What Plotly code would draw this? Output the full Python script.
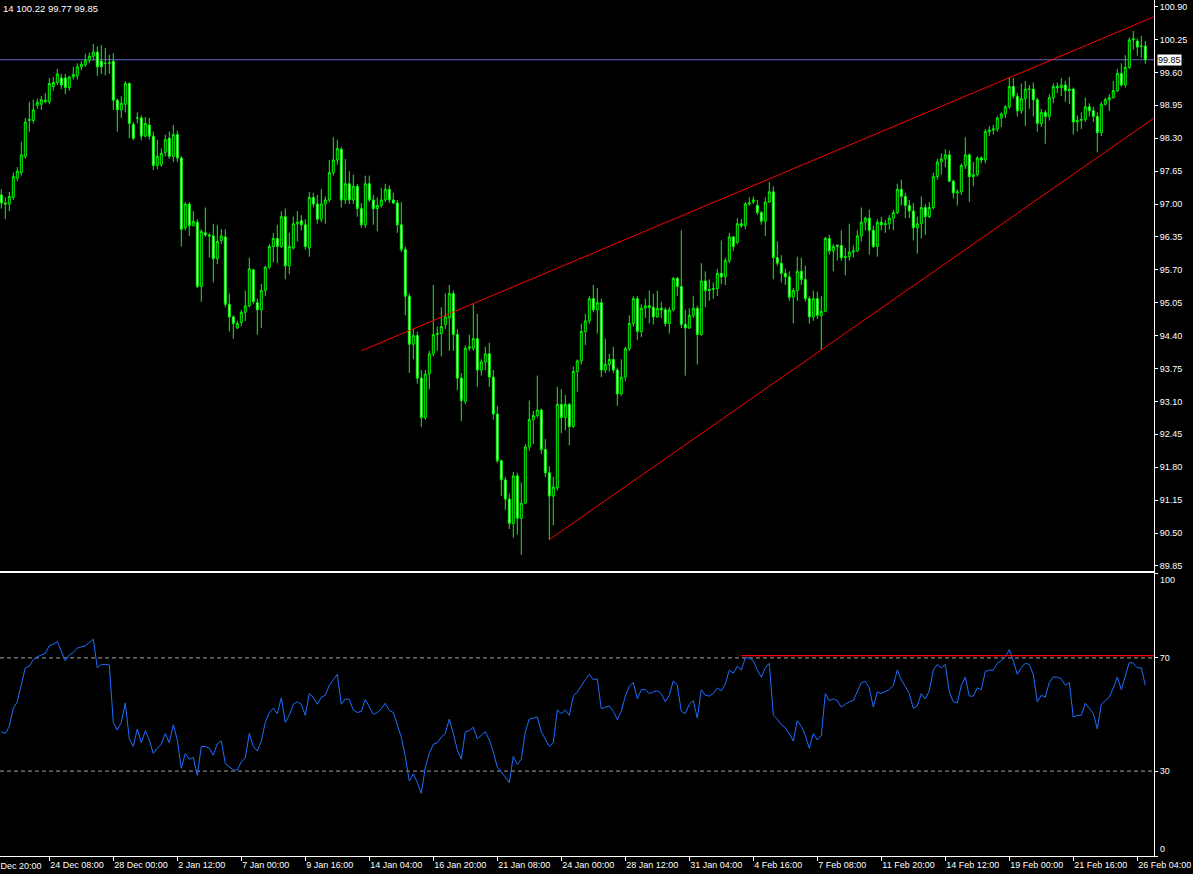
import pandas as pd
import plotly.graph_objects as go

# ---------------- data ----------------
open_ = [
    97.18, 97.02, 97.00, 97.13, 97.51, 97.62, 97.94, 98.65, 98.65, 98.95,
    98.97, 99.02, 99.02, 99.32, 99.40, 99.49, 99.49, 99.30, 99.51, 99.53,
    99.71, 99.75, 99.84, 99.92, 100.00, 99.82, 99.78, 99.78, 99.82, 99.05,
    98.86, 98.97, 99.38, 98.57, 98.70, 98.70, 98.34, 98.56, 98.34, 97.76,
    97.78, 98.02, 98.30, 97.94, 98.37, 97.91, 96.53, 97.00, 96.57, 96.64,
    95.37, 96.43, 96.39, 96.37, 95.92, 96.28, 96.35, 95.02, 94.77, 94.55,
    94.66, 94.86, 94.99, 95.70, 95.05, 94.91, 95.29, 95.75, 96.16, 96.32,
    96.16, 96.75,
    95.78, 96.13, 96.61, 96.67, 96.59, 96.13, 97.13, 97.00, 96.70, 97.00,
    97.08, 97.62, 97.87, 98.08, 97.08, 97.40, 97.08, 97.35, 96.91, 96.59,
    97.40, 97.08, 96.91, 96.97, 97.08, 97.29, 97.08, 97.02, 96.59, 96.10,
    95.18, 94.23, 94.40, 93.56, 92.78, 93.64, 94.04, 94.42, 94.44, 94.62,
    94.75, 95.23, 94.42, 93.56, 93.10, 94.15, 94.15, 94.34, 93.72, 93.88,
    94.04, 93.58, 92.85, 91.93, 91.55, 91.17, 90.69, 91.63, 90.79, 91.09,
    92.20, 92.74, 92.82, 92.93, 92.15, 91.69, 91.23, 91.39, 93.04, 92.78,
    93.04, 92.60,
    93.69, 93.90, 94.48, 94.69, 95.13, 94.91, 95.05, 93.72, 93.83, 93.93,
    93.72, 93.25, 93.58, 94.14, 94.64, 95.13, 94.48, 94.94, 94.99, 94.96,
    94.77, 94.94, 94.91, 94.64, 94.91, 95.53, 95.37, 94.62, 94.55, 94.80,
    94.94, 94.42, 95.48, 95.29, 95.31, 95.33, 95.63, 95.56, 95.88, 96.35,
    96.24, 96.61, 96.57, 97.00, 97.04, 96.97, 96.83, 96.66, 97.04, 97.24,
    95.94, 95.83, 95.63, 95.56, 95.16, 95.29, 95.67, 95.51, 95.13, 94.77,
    95.13, 94.80, 94.88, 96.32, 96.07, 96.16, 96.18, 95.94, 95.96, 96.05,
    96.07, 96.37,
    96.64, 96.72, 96.48, 96.16, 96.64, 96.59, 96.61, 96.72, 96.83, 97.29,
    97.15, 96.97, 96.86, 96.53, 96.61, 96.93, 96.75, 96.93, 97.54, 97.83,
    97.89, 97.97, 97.45, 97.22, 97.24, 97.76, 97.97, 97.54, 97.58, 97.91,
    97.87, 98.43, 98.46, 98.48, 98.70, 98.78, 98.92, 99.32, 99.13, 98.84,
    99.08, 99.27, 99.27, 99.06, 98.59, 98.81, 98.73, 99.10, 99.32, 99.30,
    99.35, 99.24, 99.27, 98.62, 98.65, 98.67, 98.92, 98.84, 98.73, 98.41,
    98.97, 99.06, 99.10, 99.24, 99.58, 99.35, 99.70, 100.24, 100.22, 100.12,
    100.12,
]

high = [
    97.29, 97.13, 97.24, 97.62, 97.73, 98.23, 98.70, 99.02, 99.06, 99.08,
    99.13, 99.19, 99.49, 99.51, 99.67, 99.57, 99.57, 99.53, 99.71, 99.78,
    99.82, 99.97, 99.99, 100.16, 100.11, 100.14, 100.08, 99.95, 99.98, 99.08,
    99.13, 99.43, 99.40, 98.62, 98.81, 98.75, 98.72, 98.70, 98.43, 98.27,
    98.10, 98.37, 98.43, 98.56, 98.45, 97.94, 97.04, 97.04, 96.86, 96.70,
    96.50, 96.93, 96.43, 96.61, 96.59, 96.50, 96.50, 95.23, 94.80, 94.69,
    94.91, 95.29, 95.94, 95.72, 95.13, 95.42, 95.78, 96.21, 96.43, 96.59,
    96.86, 96.91,
    96.43, 96.75, 96.86, 96.78, 96.70, 97.24, 97.22, 97.18, 97.29, 97.15,
    97.87, 98.32, 98.27, 98.13, 97.89, 97.65, 97.58, 97.40, 97.02, 97.56,
    97.56, 97.18, 97.13, 97.32, 97.40, 97.37, 97.22, 97.08, 97.04, 96.16,
    95.23, 94.53, 94.48, 93.72, 93.72, 94.10, 95.40, 94.58, 94.96, 95.23,
    95.40, 95.29, 94.53, 93.66, 94.21, 94.42, 95.02, 94.83, 93.93, 94.18,
    94.26, 93.72, 93.01, 91.95, 91.61, 91.28, 91.71, 91.69, 91.50, 92.26,
    93.12, 92.91, 93.61, 92.96, 92.36, 91.82, 91.61, 93.39, 93.34, 93.23,
    93.07, 93.79,
    93.93, 94.64, 94.83, 95.18, 95.40, 95.34, 95.13, 94.34, 94.04, 94.18,
    93.77, 93.93, 94.18, 94.80, 95.18, 95.18, 95.02, 95.13, 95.29, 95.23,
    95.29, 95.07, 94.96, 94.96, 95.56, 95.56, 96.48, 94.91, 94.94, 95.18,
    94.99, 95.83, 95.67, 95.51, 95.45, 95.72, 96.28, 95.94, 96.43, 96.37,
    96.72, 96.70, 97.04, 97.13, 97.15, 97.08, 96.86, 97.13, 97.43, 97.35,
    96.26, 95.99, 95.72, 95.67, 95.34, 95.96, 95.94, 95.78, 95.18, 95.29,
    95.27, 95.18, 96.35, 96.39, 96.21, 96.21, 96.48, 96.13, 96.61, 96.18,
    96.48, 96.93,
    96.75, 96.89, 96.57, 96.70, 96.75, 96.68, 96.78, 96.89, 97.40, 97.48,
    97.22, 97.08, 97.02, 96.75, 97.15, 97.00, 97.04, 97.62, 97.89, 98.00,
    98.08, 98.05, 97.48, 97.29, 97.80, 98.32, 98.00, 97.83, 97.94, 97.94,
    98.48, 98.54, 98.56, 98.73, 98.81, 98.95, 99.51, 99.49, 99.19, 99.38,
    99.43, 99.35, 99.40, 99.10, 98.88, 98.86, 99.17, 99.38, 99.40, 99.49,
    99.43, 99.51, 99.30, 98.75, 98.81, 99.10, 98.99, 98.92, 98.81, 99.02,
    99.10, 99.17, 99.43, 99.67, 99.78, 99.94, 100.29, 100.42, 100.27, 100.32,
    100.22,
]

low = [
    96.91, 96.70, 96.86, 97.08, 97.45, 97.56, 97.89, 98.43, 98.59, 98.88,
    98.86, 98.99, 98.97, 99.24, 99.35, 99.27, 99.17, 99.24, 99.46, 99.46,
    99.64, 99.71, 99.78, 99.84, 99.53, 99.57, 99.54, 99.57, 98.86, 98.43,
    98.70, 98.81, 98.30, 98.26, 98.59, 98.26, 98.32, 98.27, 97.67, 97.69,
    97.73, 97.94, 97.89, 97.83, 97.83, 96.16, 96.48, 96.37, 96.57, 95.34,
    95.07, 96.35, 95.94, 95.45, 95.81, 96.21, 94.96, 94.48, 94.34, 94.53,
    94.58, 94.69, 94.96, 95.02, 94.42, 94.55, 95.18, 95.72, 95.85, 95.83,
    96.13, 95.51,
    95.61, 96.10, 96.26, 96.48, 96.10, 95.96, 96.93, 96.61, 96.64, 96.61,
    97.04, 97.56, 97.78, 96.93, 97.00, 97.00, 97.00, 96.75, 96.53, 96.53,
    97.04, 96.59, 96.46, 96.93, 97.04, 97.02, 97.00, 96.43, 96.05, 94.80,
    93.66, 93.93, 93.45, 92.60, 92.74, 93.34, 93.99, 94.10, 93.99, 94.53,
    94.10, 94.10, 93.32, 92.71, 93.04, 94.10, 94.10, 93.39, 93.61, 93.72,
    93.39, 92.74, 91.88, 91.23, 90.96, 90.58, 90.41, 90.47, 90.07, 91.07,
    92.13, 92.26, 92.78, 92.06, 91.61, 90.36, 90.65, 91.34, 92.47, 92.53,
    92.23, 92.58,
    93.29, 93.83, 94.21, 94.64, 94.86, 94.44, 93.58, 93.66, 93.69, 93.66,
    93.01, 93.21, 93.50, 94.10, 94.58, 94.31, 94.37, 94.75, 94.64, 94.62,
    94.75, 94.75, 94.58, 94.44, 94.88, 95.18, 94.55, 93.61, 94.53, 94.75,
    93.83, 94.40, 94.96, 95.09, 95.13, 95.18, 95.42, 95.40, 95.83, 96.07,
    96.21, 96.53, 96.50, 96.97, 97.00, 96.78, 96.59, 96.37, 97.02, 95.51,
    95.78, 95.45, 95.40, 95.09, 94.64, 95.09, 95.40, 95.07, 94.64, 94.69,
    94.73, 94.12, 94.86, 96.00, 95.67, 95.88, 95.88, 95.59, 95.88, 95.94,
    96.05, 96.26,
    96.48, 96.00, 96.13, 95.96, 96.48, 96.43, 96.50, 96.48, 96.80, 96.97,
    96.72, 96.72, 96.28, 96.02, 96.32, 96.39, 96.72, 96.89, 97.48, 97.58,
    97.73, 97.43, 97.11, 96.97, 97.18, 97.69, 97.04, 97.35, 97.54, 97.80,
    97.80, 98.34, 98.37, 98.43, 98.52, 98.70, 98.88, 99.08, 98.73, 98.78,
    98.54, 98.88, 98.73, 98.43, 98.52, 98.19, 98.65, 98.99, 99.19, 99.13,
    99.02, 98.97, 98.37, 98.43, 98.48, 98.62, 98.73, 98.62, 98.02, 98.34,
    98.95, 98.84, 99.08, 99.21, 99.32, 99.30, 99.67, 100.05, 99.93, 99.89,
    99.77,
]

close = [
    97.02, 97.00, 97.15, 97.54, 97.65, 97.97, 98.62, 98.67, 98.86, 99.01,
    99.06, 99.05, 99.38, 99.40, 99.57, 99.35, 99.30, 99.51, 99.56, 99.71,
    99.76, 99.84, 99.92, 100.00, 99.71, 99.71, 99.78, 99.79, 99.05, 98.86,
    98.99, 99.38, 98.59, 98.30, 98.70, 98.34, 98.59, 98.34, 97.76, 97.94,
    98.00, 98.27, 97.94, 98.37, 97.91, 96.50, 97.00, 96.57, 96.66, 95.37,
    96.46, 96.39, 96.37, 95.92, 96.26, 96.37, 95.02, 94.77, 94.64, 94.64,
    94.86, 94.99, 95.72, 95.07, 94.91, 95.29, 95.75, 96.16, 96.32, 96.16,
    96.75, 95.78,
    96.16, 96.61, 96.64, 96.59, 96.16, 97.13, 97.00, 96.70, 97.00, 97.08,
    97.62, 97.87, 98.10, 97.08, 97.40, 97.08, 97.35, 96.91, 96.59, 97.40,
    97.08, 96.91, 96.97, 97.08, 97.29, 97.08, 97.02, 96.59, 96.10, 95.18,
    94.23, 94.40, 93.56, 92.78, 93.64, 94.04, 94.42, 94.44, 94.58, 94.77,
    95.23, 94.42, 93.56, 93.12, 94.15, 94.18, 94.34, 93.72, 93.88, 94.04,
    93.58, 92.85, 91.93, 91.55, 91.17, 90.69, 91.63, 90.79, 91.09, 92.20,
    92.74, 92.82, 92.93, 92.15, 91.69, 91.23, 91.41, 93.04, 92.78, 93.04,
    92.60, 93.69,
    93.90, 94.48, 94.69, 95.13, 94.91, 95.05, 93.72, 93.83, 93.93, 93.72,
    93.25, 93.58, 94.14, 94.64, 95.13, 94.48, 94.94, 94.99, 94.96, 94.77,
    94.94, 94.91, 94.64, 94.91, 95.53, 95.37, 94.62, 94.55, 94.80, 94.94,
    94.42, 95.48, 95.29, 95.31, 95.33, 95.63, 95.56, 95.88, 96.35, 96.16,
    96.61, 96.57, 97.00, 97.02, 97.08, 96.83, 96.66, 97.04, 97.24, 95.94,
    95.83, 95.63, 95.56, 95.16, 95.29, 95.67, 95.51, 95.13, 94.77, 95.13,
    94.80, 94.88, 96.32, 96.07, 96.16, 96.18, 95.94, 95.96, 96.05, 96.07,
    96.37, 96.64,
    96.72, 96.48, 96.16, 96.64, 96.59, 96.61, 96.72, 96.83, 97.29, 97.15,
    96.97, 96.86, 96.53, 96.61, 96.93, 96.75, 96.93, 97.54, 97.83, 97.89,
    97.97, 97.45, 97.22, 97.24, 97.76, 97.97, 97.54, 97.58, 97.91, 97.87,
    98.43, 98.46, 98.48, 98.70, 98.78, 98.92, 99.32, 99.13, 98.84, 99.08,
    99.27, 99.27, 99.06, 98.59, 98.81, 98.73, 99.10, 99.32, 99.30, 99.35,
    99.24, 99.27, 98.62, 98.65, 98.67, 98.92, 98.84, 98.73, 98.41, 98.97,
    99.06, 99.10, 99.24, 99.58, 99.35, 99.70, 100.24, 100.26, 100.10, 100.12,
    99.85,
]

rsi = [
    43.9, 43.3, 45.8, 52.2, 54.5, 60.3, 66.5, 67.1, 69.4, 70.4,
    71.0, 71.6, 74.3, 74.8, 75.8, 72.3, 69.0, 71.0, 71.9, 73.5,
    73.9, 74.3, 75.4, 76.6, 66.5, 67.7, 67.7, 67.5, 47.2, 44.5,
    47.2, 54.1, 41.4, 38.7, 44.9, 40.0, 44.3, 41.0, 36.2, 38.1,
    39.5, 43.3, 40.0, 46.4, 41.0, 31.0, 36.2, 34.2, 34.8, 28.5,
    38.7, 38.7, 38.1, 35.6, 39.7, 40.6, 32.7, 31.4, 30.4, 30.4,
    33.3, 34.6, 43.3, 38.7, 37.1, 40.6, 47.2, 50.7, 52.2, 50.3,
    55.9, 47.2,
    49.7, 53.6, 54.5, 53.6, 49.7, 57.4, 56.1, 53.6, 56.1, 56.8,
    60.3, 62.3, 64.2, 53.6, 55.5, 55.3, 51.6, 50.7, 51.1, 55.3,
    52.6, 50.1, 50.7, 52.0, 54.0, 51.4, 50.7, 46.4, 42.0, 35.2,
    26.5, 29.0, 25.9, 22.1, 31.4, 36.2, 39.5, 40.0, 42.0, 43.3,
    48.4, 43.3, 37.5, 34.2, 43.9, 44.3, 45.5, 41.4, 42.6, 43.9,
    41.0, 36.7, 31.4, 29.8, 27.9, 25.9, 35.2, 32.3, 34.2, 43.9,
    48.4, 48.7, 49.1, 43.9, 41.0, 38.7, 40.0, 51.6, 50.3, 51.6,
    49.7, 56.5,
    58.0, 60.3, 62.3, 64.2, 62.3, 62.6, 52.0, 52.6, 53.0, 51.1,
    48.2, 51.1, 56.5, 60.0, 61.3, 55.5, 58.8, 58.8, 57.4, 58.0,
    58.4, 57.4, 54.5, 56.8, 61.9, 60.3, 51.1, 50.3, 53.6, 54.9,
    48.7, 58.8, 56.8, 56.5, 57.4, 59.4, 58.4, 60.7, 65.7, 64.6,
    67.1, 65.7, 70.0, 70.0, 69.0, 65.7, 63.2, 66.5, 68.1, 49.7,
    48.4, 46.4, 45.3, 43.3, 40.6, 47.8, 45.8, 42.6, 38.1, 43.3,
    41.0, 42.6, 57.4, 54.9, 55.5, 54.9, 52.6, 53.6, 54.5, 54.9,
    58.4, 61.3,
    61.7, 59.4, 52.6, 58.0, 57.4, 58.0, 58.8, 60.3, 65.7, 62.3,
    60.0, 57.4, 52.2, 53.0, 57.4, 55.5, 58.4, 65.7, 67.7, 66.5,
    67.7, 58.0, 54.5, 54.1, 60.3, 63.2, 56.5, 56.5, 59.4, 58.8,
    65.2, 65.7, 65.7, 68.1, 69.0, 70.4, 72.9, 69.0, 64.2, 66.5,
    68.1, 67.7, 64.2, 54.5, 56.8, 56.1, 61.3, 63.2, 63.2, 62.6,
    60.3, 61.3, 49.1, 49.7, 49.7, 54.0, 52.2, 50.3, 44.9, 53.6,
    54.9, 56.1, 59.4, 63.2, 58.8, 63.2, 68.4, 68.1, 66.5, 66.5,
    60.3,
]

price_ticks = [100.90, 100.25, 99.60, 98.95, 98.30, 97.65, 97.00, 96.35, 95.70,
               95.05, 94.40, 93.75, 93.10, 92.45, 91.80, 91.15, 90.50, 89.85]
rsi_ticks = [100, 70, 30, 0]
time_tick_labels = ["19 Dec 20:00", "24 Dec 08:00", "28 Dec 00:00", "2 Jan 12:00", "7 Jan 00:00",
                    "9 Jan 16:00", "14 Jan 04:00", "16 Jan 20:00", "21 Jan 08:00",
                    "24 Jan 00:00", "28 Jan 12:00", "31 Jan 04:00", "4 Feb 16:00",
                    "7 Feb 08:00", "11 Feb 20:00", "14 Feb 12:00", "19 Feb 00:00",
                    "21 Feb 16:00", "26 Feb 04:00"]
header_text = "14 100.22 99.77 99.85"
bid_price = 99.85
rsi_levels = [70, 30]
# drawn objects: (bar index, value)
upper_channel = [(90, 94.10), (288.2, 100.70)]
lower_channel = [(137, 90.37), (288.2, 98.70)]
rsi_resistance = [(185, 70.8), (288.2, 70.8)]

# ---------------- H4 bar calendar ----------------
n = len(close)
holidays = {"12-25", "01-01"}
times = []
t = pd.Timestamp("2012-12-19 20:00")
while len(times) < n + 4:
    wd = t.weekday()
    if (wd < 5 or (wd == 6 and t.hour == 20)) and t.strftime("%m-%d") not in holidays:
        times.append(t)
    t += pd.Timedelta(hours=4)
def fmt(ts):
    return f"{ts.day} {ts.strftime('%b %H:%M')}"
all_labels = [fmt(ts) for ts in times]
offset = 4  # bars before the first visible bar
bar_labels = all_labels[offset:offset + n]
xs = list(range(n))

tickvals, ticktext, offscreen = [], [], []
for lab in time_tick_labels:
    if lab in bar_labels:
        tickvals.append(bar_labels.index(lab)); ticktext.append(lab)
    elif lab in all_labels:
        offscreen.append((all_labels.index(lab) - offset, lab))

# ---------------- layout geometry ----------------
W, H = 1193, 874
PX_PER_BAR = 4.0
ML, MR, MT, MB = 0, 39, 0, 18
plot_w = W - ML - MR
plot_h = H - MT - MB
x0 = -1.3 / PX_PER_BAR
xr = [x0, x0 + plot_w / PX_PER_BAR]
main_dom = [1 - 571 / plot_h, 1]
rsi_dom = [0, 1 - 573 / plot_h]

FONT = "Liberation Sans, Arial, sans-serif"
GREEN = "#00FF00"

fig = go.Figure()
fig.add_trace(go.Candlestick(
    x=xs, open=open_, high=high, low=low, close=close,
    increasing=dict(line=dict(color=GREEN, width=1), fillcolor="#000000"),
    decreasing=dict(line=dict(color=GREEN, width=1), fillcolor="#FFFFFF"),
    whiskerwidth=0, xaxis="x", yaxis="y", showlegend=False,
    text=bar_labels, hoverinfo="x+y+text",
))
fig.add_trace(go.Scatter(
    x=xs, y=rsi, mode="lines", line=dict(color="#1E6EFF", width=1),
    xaxis="x2", yaxis="y2", showlegend=False, text=bar_labels,
))

shapes = []
shapes.append(dict(type="line", xref="paper", yref="y", x0=0, x1=1, y0=bid_price, y1=bid_price,
                   line=dict(color="#6464C8", width=1), layer="below"))
for (a, b) in (upper_channel, lower_channel):
    shapes.append(dict(type="line", xref="x", yref="y", x0=a[0], y0=a[1], x1=b[0], y1=b[1],
                       line=dict(color="#FF0000", width=1)))
for lv in rsi_levels:
    shapes.append(dict(type="line", xref="paper", yref="y2", x0=0, x1=1, y0=lv, y1=lv,
                       line=dict(color="#A0A0A0", width=1, dash="4px,3px"), layer="below"))
shapes.append(dict(type="line", xref="x2", yref="y2",
                   x0=rsi_resistance[0][0], y0=rsi_resistance[0][1],
                   x1=rsi_resistance[1][0], y1=rsi_resistance[1][1],
                   line=dict(color="#FF0000", width=1.3)))

annotations = [
    dict(text=header_text, xref="paper", yref="paper", x=0, y=1, xanchor="left", yanchor="top",
         xshift=1, yshift=-1, showarrow=False, font=dict(color="white", size=9.5, family=FONT)),
    dict(text=f"{bid_price:.2f}", xref="paper", yref="y", x=1, y=bid_price, xanchor="left",
         yanchor="middle", xshift=3, showarrow=False, bgcolor="white", borderpad=0,
         font=dict(color="black", size=9, family=FONT)),
    dict(text="100", xref="paper", yref="y2", x=1, y=97.4, xanchor="left", yanchor="middle",
         xshift=4, showarrow=False, font=dict(color="white", size=9, family=FONT)),
    dict(text="0", xref="paper", yref="y2", x=1, y=2.3, xanchor="left", yanchor="middle",
         xshift=4, showarrow=False, font=dict(color="white", size=9, family=FONT)),
]
for (bx, lab) in offscreen:
    annotations.append(dict(text=lab, xref="paper", yref="paper",
                            x=(bx - xr[0]) / (xr[1] - xr[0]), y=0, xanchor="left", yanchor="top",
                            xshift=1, yshift=-3, showarrow=False,
                            font=dict(color="white", size=9, family=FONT)))

axis_common = dict(showgrid=False, zeroline=False, linecolor="white", linewidth=1,
                   tickcolor="white", tickfont=dict(color="white", size=9, family=FONT),
                   automargin=False, fixedrange=True)

fig.update_layout(
    width=W, height=H, margin=dict(l=ML, r=MR, t=MT, b=MB, pad=0),
    paper_bgcolor="#000000", plot_bgcolor="#000000",
    showlegend=False, hovermode=False,
    xaxis=dict(domain=[0, 1], anchor="y", range=xr, showticklabels=False, ticks="",
               showline=True, mirror=True, rangeslider=dict(visible=False), **axis_common),
    yaxis=dict(domain=main_dom, anchor="x", side="right", range=[89.75, 101.03],
               tickmode="array", tickvals=price_ticks,
               ticktext=[f"{v:.2f}" for v in price_ticks],
               ticks="outside", ticklen=3, showline=True, **axis_common),
    xaxis2=dict(domain=[0, 1], anchor="y2", range=xr, tickmode="array",
                tickvals=tickvals, ticktext=ticktext, ticks="outside", ticklen=4,
                ticklabelposition="outside right", showline=True, mirror=True,
                **axis_common),
    yaxis2=dict(domain=rsi_dom, anchor="x2", side="right", range=[0, 100],
                tickmode="array", tickvals=rsi_ticks,
                ticktext=["" if v in (0, 100) else str(v) for v in rsi_ticks],
                ticks="outside", ticklen=3, showline=True, **axis_common),
    shapes=shapes, annotations=annotations,
)

fig.write_html("out.html", config={"displayModeBar": False, "staticPlot": True},
               post_script="document.body.style.margin='0';document.body.style.background='#000';")
